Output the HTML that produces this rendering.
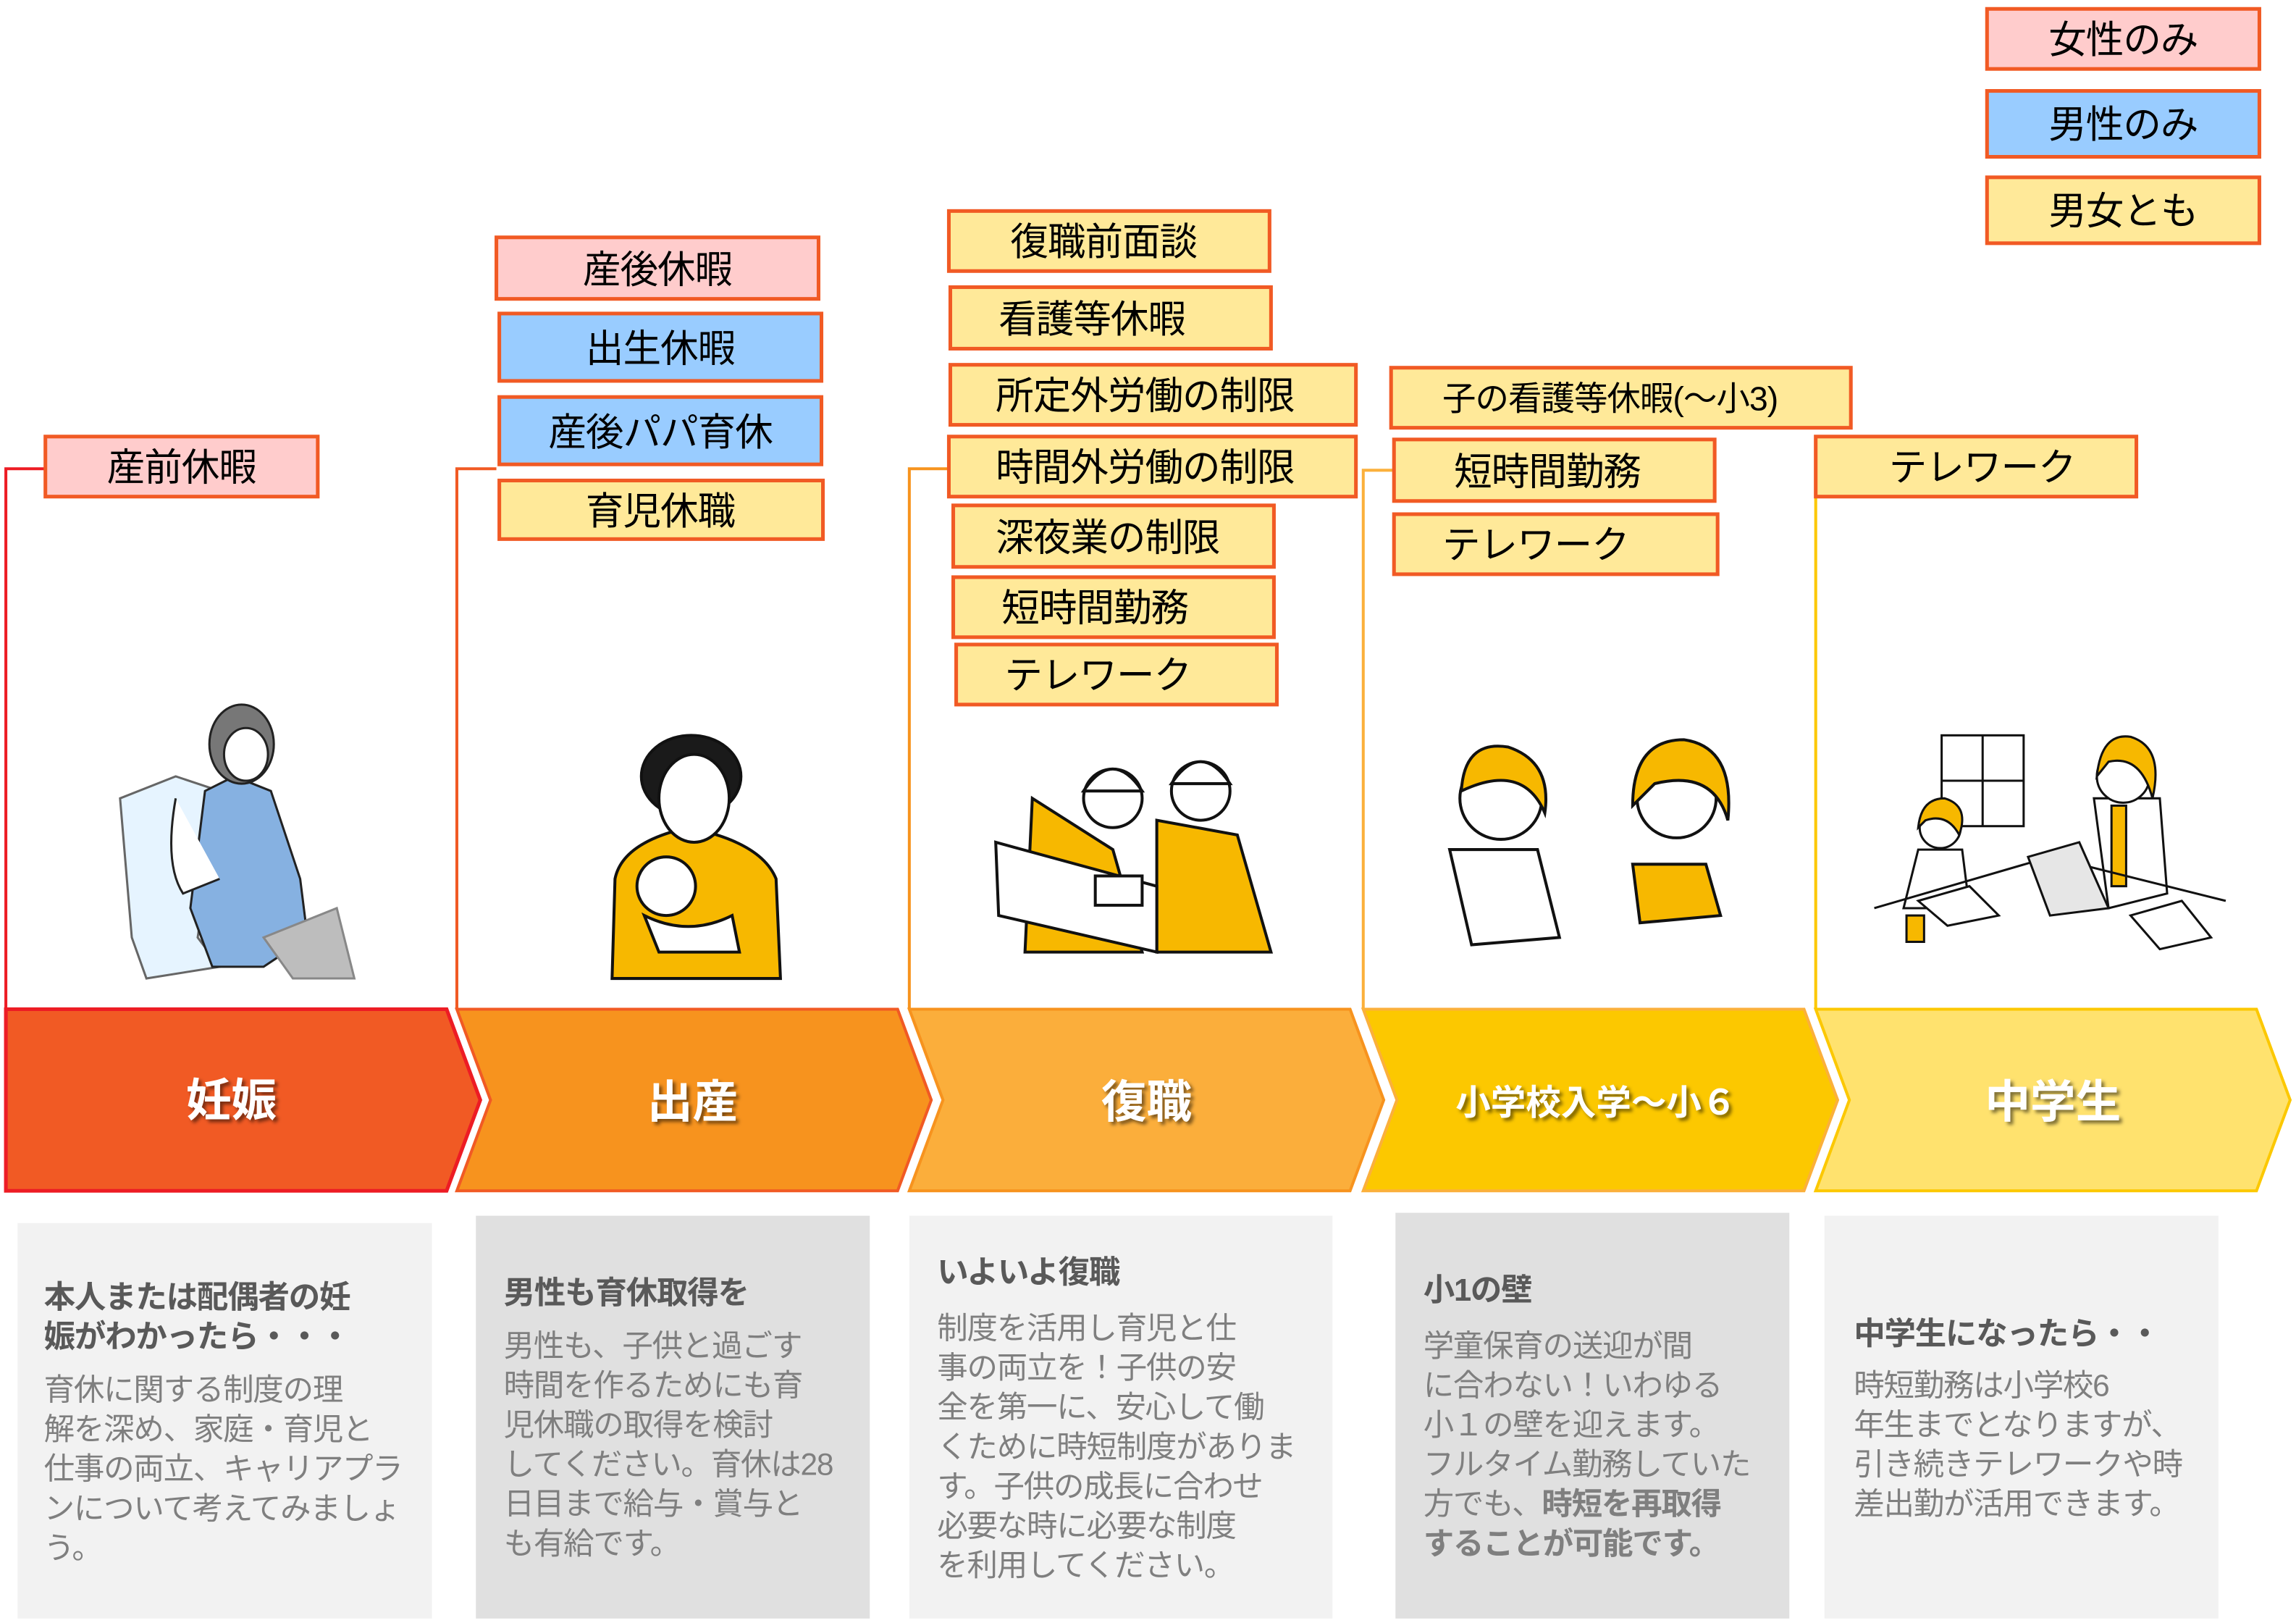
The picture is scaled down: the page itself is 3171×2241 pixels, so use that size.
<!DOCTYPE html>
<html><head><meta charset="utf-8"><style>
html,body{margin:0;padding:0;background:#fff;width:3171px;height:2241px;overflow:hidden}
svg{display:block}
text{font-family:"Liberation Sans","Noto Sans CJK JP",sans-serif}
.b{font-size:26px;fill:#000;letter-spacing:-0.5px}
.h{font-size:21.5px;font-weight:bold;fill:#595959;letter-spacing:-0.6px}
.t{font-size:21px;fill:#7f7f7f;letter-spacing:-0.6px}
.c{font-size:31px;font-weight:bold;fill:#fff;text-anchor:middle}
</style></head><body>
<svg width="3171" height="2241" viewBox="0 0 1568 1108" xmlns="http://www.w3.org/2000/svg">
<defs><filter id="sh" x="-10%" y="-10%" width="130%" height="140%"><feDropShadow dx="2" dy="2" stdDeviation="1.2" flood-color="#000" flood-opacity="0.5"/></filter></defs>

<rect x="1357" y="6" width="186" height="41" fill="#FFCCCC" stroke="#F15A24" stroke-width="2.5"/>
<text class="b" x="1450" y="36" text-anchor="middle">女性のみ</text>
<rect x="1357" y="62" width="186" height="45" fill="#99CCFF" stroke="#F15A24" stroke-width="2.5"/>
<text class="b" x="1450" y="94" text-anchor="middle">男性のみ</text>
<rect x="1357" y="121" width="186" height="45" fill="#FFE999" stroke="#F15A24" stroke-width="2.5"/>
<text class="b" x="1450" y="153" text-anchor="middle">男女とも</text>

<polyline points="31,320 4,320 4,689" fill="none" stroke="#ED1C24" stroke-width="2"/>
<polyline points="339,320 312,320 312,689" fill="none" stroke="#F15A24" stroke-width="2"/>
<polyline points="648,320 621,320 621,689" fill="none" stroke="#F7931E" stroke-width="2"/>
<polyline points="952,321 931,321 931,689" fill="none" stroke="#FBB03B" stroke-width="2"/>
<polyline points="1240,330 1240,689" fill="none" stroke="#FCC800" stroke-width="2"/>

<g stroke="#F15A24" stroke-width="2.5">
<rect x="31" y="298" width="186" height="41" fill="#FFCCCC"/>
<rect x="339" y="162" width="220" height="42" fill="#FFCCCC"/>
<rect x="341" y="214" width="220" height="46" fill="#99CCFF"/>
<rect x="341" y="271" width="220" height="46" fill="#99CCFF"/>
<rect x="341" y="328" width="221" height="40" fill="#FFE999"/>
<rect x="648" y="144" width="219" height="41" fill="#FFE999"/>
<rect x="649" y="196" width="219" height="42" fill="#FFE999"/>
<rect x="649" y="249" width="277" height="41" fill="#FFE999"/>
<rect x="648" y="298" width="278" height="41" fill="#FFE999"/>
<rect x="651" y="345" width="219" height="42" fill="#FFE999"/>
<rect x="651" y="394" width="219" height="41" fill="#FFE999"/>
<rect x="653" y="440" width="219" height="41" fill="#FFE999"/>
<rect x="950" y="251" width="314" height="41" fill="#FFE999"/>
<rect x="952" y="300" width="219" height="42" fill="#FFE999"/>
<rect x="952" y="351" width="221" height="41" fill="#FFE999"/>
<rect x="1240" y="298" width="219" height="41" fill="#FFE999"/>
</g>
<text class="b" x="124" y="328" text-anchor="middle">産前休暇</text>
<text class="b" x="449" y="193" text-anchor="middle">産後休暇</text>
<text class="b" x="451" y="247" text-anchor="middle">出生休暇</text>
<text class="b" x="451" y="304" text-anchor="middle">産後パパ育休</text>
<text class="b" x="451" y="358" text-anchor="middle">育児休職</text>
<text class="b" x="690" y="174">復職前面談</text>
<text class="b" x="682" y="227">看護等休暇</text>
<text class="b" x="680" y="279">所定外労働の制限</text>
<text class="b" x="680" y="328">時間外労働の制限</text>
<text class="b" x="680" y="376">深夜業の制限</text>
<text class="b" x="684" y="424">短時間勤務</text>
<text class="b" x="686" y="470">テレワーク</text>
<text class="b" x="985" y="280" style="font-size:23px">子の看護等休暇(～小3)</text>
<text class="b" x="993" y="331">短時間勤務</text>
<text class="b" x="985" y="381">テレワーク</text>
<text class="b" x="1290" y="328">テレワーク</text>

<g stroke="#222" stroke-width="1.5">
<path d="M82,545 L120,530 L150,540 L135,640 L150,660 L100,668 L90,640 Z" fill="#E6F4FF" stroke="#666"/>
<path d="M140,540 L160,530 L185,540 L205,600 L210,640 L180,660 L145,660 L130,620 Z" fill="#86B1E1"/>
<path d="M180,640 L230,620 L242,668 L200,668 Z" fill="#BDBDBD" stroke="#888"/>
<ellipse cx="165" cy="508" rx="22" ry="27" fill="#777"/>
<ellipse cx="168" cy="515" rx="15" ry="18" fill="#fff"/>
<path d="M120,545 Q112,590 125,610 L150,600" fill="#fff"/>
</g>
<g stroke="#111" stroke-width="2">
<path d="M420,600 Q425,575 470,565 Q520,575 530,600 L533,668 L418,668 Z" fill="#F7B800"/>
<ellipse cx="472" cy="530" rx="34" ry="28" fill="#1a1a1a"/>
<ellipse cx="474" cy="545" rx="24" ry="30" fill="#fff"/>
<circle cx="455" cy="605" r="20" fill="#fff"/>
<path d="M440,625 Q470,640 500,625 L505,650 L450,650 Z" fill="#fff"/>
</g>
<g stroke="#111" stroke-width="2">
<path d="M705,545 L760,580 L780,650 L700,650 Z" fill="#F7B800"/>
<path d="M790,560 L845,570 L868,650 L790,650 Z" fill="#F7B800"/>
<circle cx="760" cy="545" r="20" fill="#fff"/>
<circle cx="820" cy="540" r="20" fill="#fff"/>
<path d="M740,540 Q760,510 780,540 Z" fill="#fff"/>
<path d="M800,535 Q820,505 840,535 Z" fill="#fff"/>
<path d="M680,575 L790,605 L790,650 L682,625 Z" fill="#fff"/>
<rect x="748" y="598" width="32" height="20" fill="#fff"/>
</g>
<g stroke="#111" stroke-width="2">
<path d="M990,580 L1050,580 L1065,640 L1005,645 Z" fill="#fff"/>
<circle cx="1025" cy="545" r="28" fill="#fff"/>
<path d="M998,540 Q1000,505 1030,510 Q1060,520 1055,555 Q1040,520 998,540 Z" fill="#F7B800"/>
<path d="M1115,590 L1165,590 L1175,625 L1120,630 Z" fill="#F7B800"/>
<circle cx="1145" cy="545" r="27" fill="#fff"/>
<path d="M1115,550 Q1115,505 1150,505 Q1185,510 1180,560 Q1170,525 1130,535 Z" fill="#F7B800"/>
</g>
<g stroke="#111" stroke-width="1.5">
<rect x="1326" y="502" width="56" height="62" fill="#fff"/>
<line x1="1354" y1="502" x2="1354" y2="564"/><line x1="1326" y1="533" x2="1382" y2="533"/>
<path d="M1430,545 L1475,545 L1480,610 L1440,620 Z" fill="#fff"/>
<rect x="1442" y="550" width="10" height="55" fill="#F7B800"/>
<circle cx="1450" cy="530" r="18" fill="#fff"/>
<path d="M1432,530 Q1435,500 1455,503 Q1478,510 1470,545 Q1462,515 1440,520 Z" fill="#F7B800"/>
<circle cx="1325" cy="565" r="14" fill="#fff"/>
<path d="M1310,565 Q1312,545 1328,545 Q1345,550 1338,570 Q1330,555 1315,560 Z" fill="#F7B800"/>
<path d="M1310,580 L1340,580 L1345,620 L1300,620 Z" fill="#fff"/>
<path d="M1280,620 L1400,585 L1520,615" fill="none"/>
<path d="M1385,585 L1420,575 L1440,620 L1400,625 Z" fill="#E6E6E6"/>
<path d="M1455,625 L1490,615 L1510,640 L1475,648 Z" fill="#fff"/>
<path d="M1310,615 L1345,605 L1365,625 L1330,632 Z" fill="#fff"/>
<rect x="1302" y="625" width="12" height="18" fill="#F7B800"/>
</g>

<polygon points="4,689 305,689 328,751 305,813 4,813" fill="#F15A24" stroke="#ED1C24" stroke-width="2.5"/>
<polygon points="312,689 613,689 636,751 613,813 312,813 335,751" fill="#F7931E" stroke="#F15A24" stroke-width="2"/>
<polygon points="621,689 922,689 945,751 922,813 621,813 644,751" fill="#FBAE3B" stroke="#F7931E" stroke-width="2"/>
<polygon points="931,689 1232,689 1255,751 1232,813 931,813 954,751" fill="#FCC800" stroke="#FBB03B" stroke-width="2"/>
<polygon points="1240,689 1541,689 1564,751 1541,813 1240,813 1263,751" fill="#FFE26E" stroke="#FCC800" stroke-width="2"/>
<g filter="url(#sh)">
<text class="c" x="158" y="762">妊娠</text>
<text class="c" x="473" y="763">出産</text>
<text class="c" x="783" y="763">復職</text>
<text class="c" x="1090" y="761" style="font-size:24px">小学校入学～小６</text>
<text class="c" x="1402" y="763">中学生</text>
</g>

<rect x="12" y="835" width="283" height="270" fill="#F2F2F2"/>
<rect x="325" y="830" width="269" height="275" fill="#E0E0E0"/>
<rect x="621" y="830" width="289" height="275" fill="#F2F2F2"/>
<rect x="953" y="828" width="269" height="277" fill="#E0E0E0"/>
<rect x="1246" y="830" width="269" height="275" fill="#F2F2F2"/>

<text class="h" x="30" y="893">本人または配偶者の妊</text>
<text class="h" x="30" y="920">娠がわかったら・・・</text>
<text class="t" x="30" y="956">育休に関する制度の理</text>
<text class="t" x="30" y="983">解を深め、家庭・育児と</text>
<text class="t" x="30" y="1010">仕事の両立、キャリアプラ</text>
<text class="t" x="30" y="1037">ンについて考えてみましょ</text>
<text class="t" x="30" y="1064">う。</text>

<text class="h" x="344" y="890">男性も育休取得を</text>
<text class="t" x="344" y="926">男性も、子供と過ごす</text>
<text class="t" x="344" y="953">時間を作るためにも育</text>
<text class="t" x="344" y="980">児休職の取得を検討</text>
<text class="t" x="344" y="1007">してください。育休は28</text>
<text class="t" x="344" y="1034">日目まで給与・賞与と</text>
<text class="t" x="344" y="1061">も有給です。</text>

<text class="h" x="640" y="876">いよいよ復職</text>
<text class="t" x="640" y="914">制度を活用し育児と仕</text>
<text class="t" x="640" y="941">事の両立を！子供の安</text>
<text class="t" x="640" y="968">全を第一に、安心して働</text>
<text class="t" x="640" y="995">くために時短制度がありま</text>
<text class="t" x="640" y="1022">す。子供の成長に合わせ</text>
<text class="t" x="640" y="1049">必要な時に必要な制度</text>
<text class="t" x="640" y="1076">を利用してください。</text>

<text class="h" x="972" y="888">小1の壁</text>
<text class="t" x="972" y="926">学童保育の送迎が間</text>
<text class="t" x="972" y="953">に合わない！いわゆる</text>
<text class="t" x="972" y="980">小１の壁を迎えます。</text>
<text class="t" x="972" y="1007">フルタイム勤務していた</text>
<text class="t" x="972" y="1034">方でも、<tspan font-weight="bold">時短を再取得</tspan></text>
<text class="t" x="972" y="1061" font-weight="bold">することが可能です。</text>

<text class="h" x="1266" y="918">中学生になったら・・</text>
<text class="t" x="1266" y="953">時短勤務は小学校6</text>
<text class="t" x="1266" y="980">年生までとなりますが、</text>
<text class="t" x="1266" y="1007">引き続きテレワークや時</text>
<text class="t" x="1266" y="1034">差出勤が活用できます。</text>
</svg>
</body></html>
